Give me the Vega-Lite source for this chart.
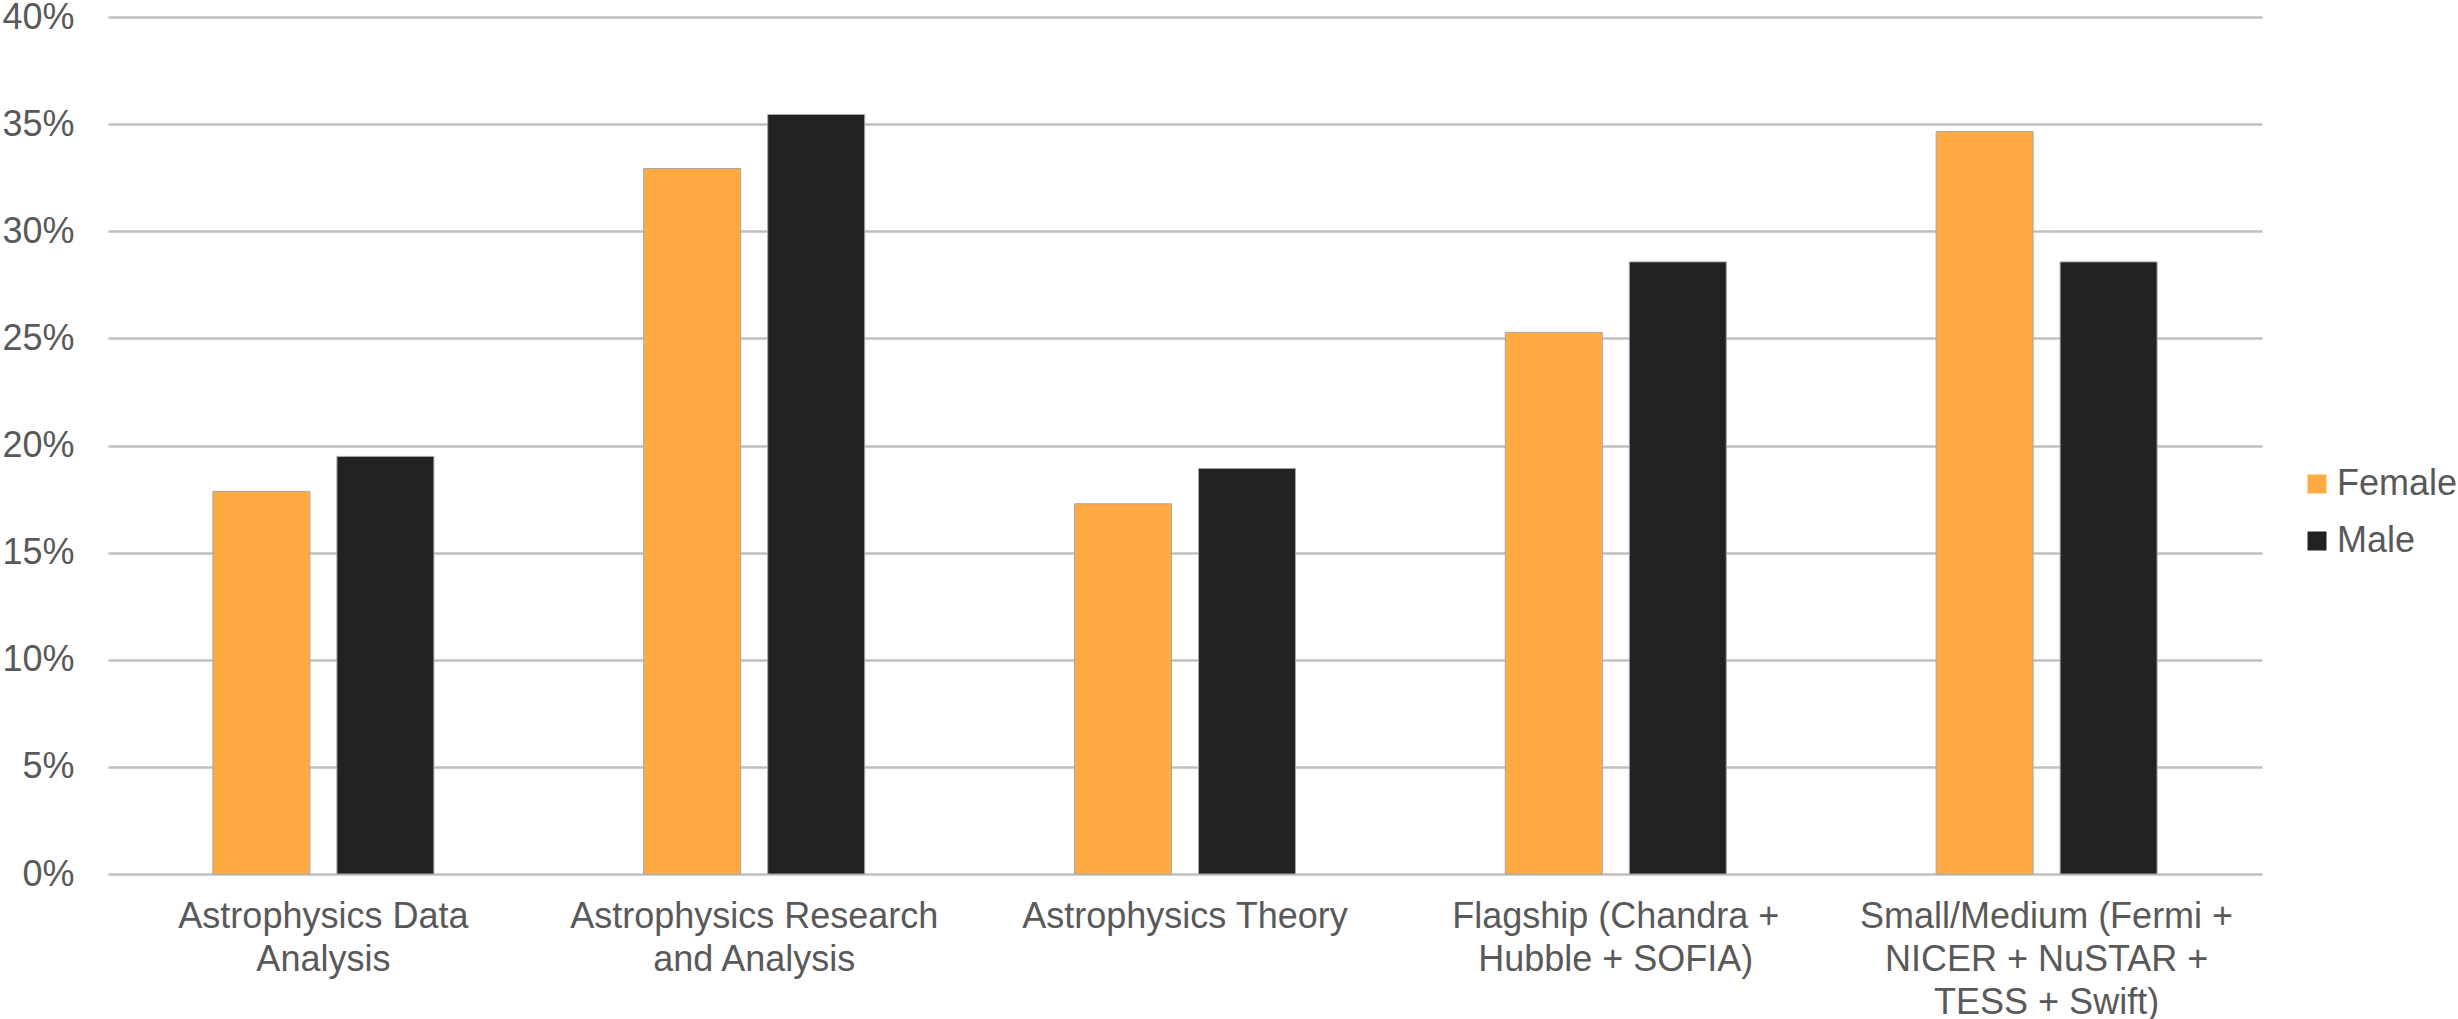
{
  "$schema": "https://vega.github.io/schema/vega-lite/v6.json",
  "autosize": {"type": "none"},
  "padding": {"left": 108, "top": 17, "right": 196, "bottom": 145},
  "width": 2154,
  "height": 857,
  "background": "white",
  "config": {
    "view": {"stroke": null},
    "font": "Liberation Sans",
    "axis": {"labelFont": "Liberation Sans", "labelColor": "#595959", "labelFontSize": 36},
    "legend": {"labelFont": "Liberation Sans", "labelColor": "#595959", "labelFontSize": 36}
  },
  "data": {
    "values": [
      {"program": "Astrophysics Data Analysis", "gender": "Female", "share": 0.1786},
      {"program": "Astrophysics Data Analysis", "gender": "Male", "share": 0.1949},
      {"program": "Astrophysics Research and Analysis", "gender": "Female", "share": 0.3293},
      {"program": "Astrophysics Research and Analysis", "gender": "Male", "share": 0.3545},
      {"program": "Astrophysics Theory", "gender": "Female", "share": 0.1728},
      {"program": "Astrophysics Theory", "gender": "Male", "share": 0.1893},
      {"program": "Flagship (Chandra + Hubble + SOFIA)", "gender": "Female", "share": 0.2528},
      {"program": "Flagship (Chandra + Hubble + SOFIA)", "gender": "Male", "share": 0.2857},
      {"program": "Small/Medium (Fermi + NICER + NuSTAR + TESS + Swift)", "gender": "Female", "share": 0.3465},
      {"program": "Small/Medium (Fermi + NICER + NuSTAR + TESS + Swift)", "gender": "Male", "share": 0.2857}
    ]
  },
  "mark": {"type": "bar", "stroke": "#A6A6A6", "strokeWidth": 1},
  "encoding": {
    "x": {
      "field": "program",
      "type": "nominal",
      "sort": null,
      "title": null,
      "scale": {"paddingInner": 0, "paddingOuter": 0},
      "axis": {
        "domain": false,
        "ticks": false,
        "labelAngle": 0,
        "labelPadding": 25,
        "labelLineHeight": 43,
        "labelLimit": 0,
        "labelAlign": "center",
        "labelBaseline": "top",
        "labelExpr": "datum.value == 'Astrophysics Data Analysis' ? ['Astrophysics Data', 'Analysis'] : datum.value == 'Astrophysics Research and Analysis' ? ['Astrophysics Research', 'and Analysis'] : datum.value == 'Astrophysics Theory' ? ['Astrophysics Theory'] : datum.value == 'Flagship (Chandra + Hubble + SOFIA)' ? ['Flagship (Chandra +', 'Hubble + SOFIA)'] : ['Small/Medium (Fermi +', 'NICER + NuSTAR +', 'TESS + Swift)']"
      }
    },
    "xOffset": {
      "field": "gender",
      "type": "nominal",
      "sort": ["Female", "Male"],
      "scale": {"paddingInner": 0.218, "paddingOuter": 0.846}
    },
    "y": {
      "field": "share",
      "type": "quantitative",
      "title": null,
      "scale": {"domain": [0, 0.4], "nice": false},
      "axis": {
        "format": ".0%",
        "values": [0, 0.05, 0.1, 0.15, 0.2, 0.25, 0.3, 0.35, 0.4],
        "domain": false,
        "ticks": false,
        "labelPadding": 34,
        "grid": true,
        "gridColor": "#BFBFBF",
        "gridWidth": 2.5
      }
    },
    "color": {
      "field": "gender",
      "type": "nominal",
      "sort": ["Female", "Male"],
      "scale": {"domain": ["Female", "Male"], "range": ["#FFAA42", "#222222"]},
      "legend": {
        "title": null,
        "orient": "none",
        "legendX": 2191,
        "legendY": 449,
        "symbolType": "square",
        "symbolSize": 361,
        "symbolStrokeWidth": 0,
        "labelOffset": 2,
        "labelLimit": 0,
        "rowPadding": 21,
        "padding": 0
      }
    }
  }
}
